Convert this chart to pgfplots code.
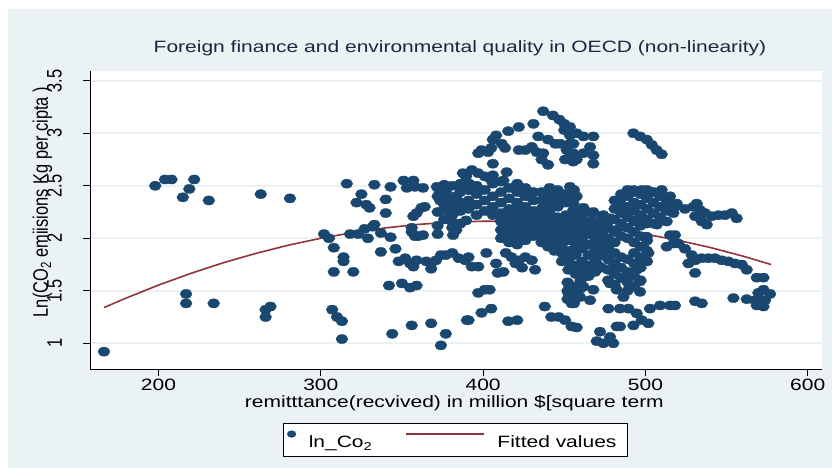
\documentclass[border=0pt]{standalone}
\usepackage{fontspec}
\setmainfont{Liberation Sans}[FakeStretch=1.28]
\newfontfamily\yfont{Liberation Sans}[FakeStretch=0.78125]
\usepackage{pgfplots}
\usepackage{pgfplotstable}
\pgfplotsset{compat=1.18}
\definecolor{stBg}{RGB}{234,242,243}
\definecolor{stNavy}{RGB}{26,71,111}
\definecolor{stMaroon}{RGB}{144,53,59}
\definecolor{titlecol}{RGB}{28,38,64}
\newcommand\lblfont{\fontsize{16.4bp}{19bp}\selectfont}
\newcommand\ylblfont{\yfont\fontsize{21bp}{24bp}\selectfont}
\pgfplotsset{
  scatlegend/.style={legend image code/.code={\draw[mark repeat=2, mark phase=2, ##1, mark size=3.4bp] plot coordinates {(0bp,0bp) (6bp,0bp) (12bp,0bp)};}},
  linelegend/.style={legend image code/.code={\draw[##1] (0bp,0bp) -- (78bp,0bp);}},
}

\pgfplotstableread{
x y
166.4 0.92
198 2.50
204 2.56
208 2.56
222 2.56
219 2.47
215 2.39
231 2.36
263 2.42
281 2.38
217 1.47
217 1.38
234 1.38
266 1.32
269 1.35
266 1.25
307 1.32
310 1.25
313 1.21
313 1.04
344 1.09
356 1.17
368 1.19
374 0.98
377 1.09
390 1.22
302 2.04
305 2.00
308 1.91
314 1.82
314 1.78
308 1.68
320 1.68
316 2.52
325 2.42
322 2.34
328 2.32
330 2.29
318 2.04
323 2.04
327 2.09
333 2.13
337 2.05
329 2.00
332 2.11
333 2.51
343 2.49
340 2.37
340 2.24
343 2.01
337 1.87
346 1.90
342 1.55
350 1.57
355 1.53
359 1.55
351 2.55
357 2.55
353 2.48
358 2.49
363 2.48
359 2.24
362 2.29
364 2.30
357 2.21
356 2.06
358 2.02
360 2.02
363 2.03
356 2.10
372 2.04
348 1.78
352 1.81
355 1.76
357 1.73
359 1.79
365 1.78
368 1.76
368 1.71
371 1.79
374 1.84
377 1.84
381 1.86
385 1.81
389 1.79
373 2.46
376 2.51
375 2.36
371.5 2.49
374.5 2.46
377.5 2.43
373.5 2.36
375.5 2.27
379.5 2.33
383.5 2.40
385.5 2.49
387.5 2.62
389.5 2.59
391.5 2.52
385.5 2.27
379.5 2.21
381.5 2.14
383.5 2.08
381.5 2.03
385.5 2.14
389.5 2.17
391.5 2.46
437 3.21
443 3.17
447 3.13
450 3.09
450 3.03
453.5 2.98
453.5 2.90
451.5 2.84
455.5 2.81
450.5 2.75
455.5 2.73
431 3.09
422 3.06
415.5 3.02
408 2.98
406 2.94
411.5 2.90
413.5 2.86
405 2.86
399 2.84
397 2.81
403 2.82
422 2.84
426 2.84
430 2.87
433 2.82
437 2.81
436 2.75
440 2.70
434 2.97
440 2.94
444.5 2.90
447.5 2.90
406 2.71
393 2.65
397 2.62
401 2.59
404 2.57
389 2.60
414.5 2.63
412.5 2.55
391 1.82
393 1.73
397 1.73
402 1.86
408 1.76
409 1.67
412.5 1.68
417.5 1.82
422 1.79
426 1.82
430 1.79
432 1.70
420 1.76
414 1.86
424 1.72
397 1.48
401 1.51
404 1.51
399 1.29
405 1.33
391 1.22
415.5 1.21
421 1.22
438 1.35
442 1.25
446.5 1.25
450.5 1.22
454.5 1.16
452.5 1.57
452.5 1.48
454.5 1.38
453.5 3.06
457.6 3.00
461.8 2.97
467.9 2.97
465.9 2.87
467.9 2.79
461.8 2.81
457.6 2.75
467.9 2.71
455.6 2.90
453.5 2.78
492.6 3.00
496.7 2.97
500.8 2.94
503.9 2.89
506.9 2.84
510 2.80
453.5 2.49
457.6 2.40
455.6 2.33
484.3 2.36
488.5 2.43
492.6 2.46
497.7 2.46
503.9 2.44
510 2.46
515.2 2.40
519.3 2.33
517.2 2.24
513.1 2.16
507 2.13
500.8 2.14
494.6 2.17
488.5 2.24
483.3 2.30
455.6 2.27
461.8 2.29
467.9 2.25
474.1 2.22
478.2 2.19
461.8 2.17
470 2.14
457.6 2.08
465.9 2.05
474.1 2.02
482.3 2.08
478.2 1.97
459.7 1.95
470 1.92
453.5 1.98
500.8 2.015
498.7 1.92
501.8 1.86
497.7 1.79
494.6 1.70
496.7 1.59
496.7 1.49
490.5 1.54
486.4 1.63
482.3 1.73
478.2 1.79
474.1 1.86
470 1.76
465.9 1.68
461.8 1.63
457.6 1.70
453.5 1.76
461.8 1.54
467.9 1.51
459.7 1.44
453.5 1.51
478.2 1.57
482.3 1.51
486.4 1.44
465.9 1.41
513.1 1.92
517.2 1.95
515.2 2.03
477.2 1.33
484.3 1.33
489.5 1.33
494.6 1.285
497.7 1.22
492.6 1.17
502.8 1.33
501.8 1.19
509 1.36
515.2 1.36
457.6 1.15
472 1.11
470 1.02
474.1 1.00
478.2 1.06
482.3 1.16
480.2 1.00
484.3 1.16
518.2 2.30
524.4 2.28
529.5 2.30
531.6 2.33
533.6 2.27
530.6 2.21
534.7 2.16
537.8 2.13
540.8 2.21
544.9 2.22
549.0 2.22
553.2 2.24
556.2 2.19
536.7 2.24
518.2 2.03
520.3 1.95
524.4 1.90
528.5 1.84
530.6 1.79
526.5 1.76
534.7 1.81
538.8 1.81
542.9 1.81
547 1.79
551.1 1.78
555.2 1.76
559.3 1.75
562.4 1.70
530.6 1.67
568.6 1.625
572.7 1.625
518.2 1.36
530.6 1.40
534.7 1.38
554.2 1.43
562.4 1.42
567.5 1.41
569.6 1.48
572.7 1.51
576.8 1.47
573.7 1.41
568.6 1.36
572.7 1.35
372 2.12
372 2.25
372 2.40
376 2.18
376 2.32
376 2.46
381 2.10
381 2.22
381 2.30
381 2.38
381 2.50
386 2.14
386 2.26
386 2.34
386 2.44
386 2.52
391 2.28
391 2.36
391 2.46
396 2.22
396 2.32
396 2.42
396 2.50
401 2.26
401 2.36
401 2.46
406 2.22
406 2.30
406 2.40
406 2.52
406 2.60
411 2.00
411 2.08
411 2.16
411 2.24
411 2.34
411 2.44
411 2.54
416 1.96
416 2.04
416 2.12
416 2.20
416 2.28
416 2.38
416 2.48
421 1.94
421 2.02
421 2.10
421 2.18
421 2.26
421 2.34
421 2.44
421 2.52
426 1.98
426 2.06
426 2.14
426 2.22
426 2.30
426 2.40
426 2.48
431 2.02
431 2.10
431 2.18
431 2.26
431 2.36
431 2.44
436 2.12
436 2.20
436 2.28
436 2.36
436 2.44
441 2.16
441 2.24
441 2.32
441 2.40
441 2.48
446 2.12
446 2.20
446 2.30
446 2.38
446 2.46
451 2.14
451 2.22
451 2.34
451 2.42
456 2.18
456 2.26
456 2.38
456 2.46
436 1.96
436 2.04
440 1.92
440 2.00
440 2.08
444 1.88
444 1.96
444 2.04
448.5 1.78
448.5 1.86
448.5 1.94
448.5 2.02
448.5 2.10
452.5 1.70
452.5 1.80
452.5 1.88
452.5 1.98
452.5 2.06
457 1.66
457 1.74
457 1.84
457 1.92
457 2.02
457 2.10
461 1.70
461 1.78
461 1.90
461 1.98
461 2.06
465 1.64
465 1.74
465 1.84
465 1.94
465 2.04
465 2.12
469 1.68
469 1.80
469 1.88
469 2.00
469 2.08
473 1.72
473 1.84
473 1.96
473 2.06
452 1.58
452 1.50
452 1.42
456 1.54
456 1.46
456 1.38
460 1.60
460 1.52
461 2.14
461 2.22
467 2.16
467 2.24
473 2.12
473 2.20
477 2.10
477 2.16
481 2.18
481 2.28
481 2.36
485 2.14
485 2.24
485 2.32
485 2.42
489 2.10
489 2.20
489 2.30
489 2.40
489 2.46
493 2.16
493 2.26
493 2.34
493 2.44
497 2.12
497 2.22
497 2.32
497 2.42
501 2.18
501 2.28
501 2.38
501 2.46
505 2.14
505 2.24
505 2.34
505 2.44
509 2.20
509 2.30
509 2.40
513 2.26
513 2.34
477 1.60
477 1.70
477 1.80
477 1.90
477 2.00
481 1.56
481 1.66
481 1.76
481 1.86
481 1.96
481 2.06
485 1.62
485 1.72
485 1.82
485 2.02
489 1.50
489 1.58
489 1.68
489 1.80
489 2.00
493 1.54
493 1.64
493 1.76
493 1.86
493 1.96
493 2.06
497 1.60
497 1.72
497 1.82
497 1.92
497 2.02
501 1.78
501 1.88
501 1.98
}\scatterdata

\pgfplotstableread{
x y
166.4 1.340
180 1.430
200 1.554
220 1.666
240 1.767
260 1.856
280 1.934
300 2.000
320 2.055
340 2.099
360 2.132
380 2.153
400 2.162
420 2.161
440 2.148
460 2.123
480 2.087
500 2.040
520 1.981
540 1.912
560 1.830
577.4 1.750
}\fitdata

\begin{document}
\begin{tikzpicture}
\useasboundingbox (0,0) rectangle (832bp,468bp);
\fill[white] (0,0) rectangle (832bp,468bp);
\fill[stBg] (7.5bp,0) rectangle (832bp,459bp);
\begin{axis}[
  at={(90bp,98.7bp)}, anchor=south west,
  scale only axis, width=731.7bp, height=298.6bp,
  xmin=157.8, xmax=608.6, ymin=0.752, ymax=3.596,
  axis x line*=bottom, axis y line*=left,
  axis line style={black, line width=1bp},
  axis background/.style={fill=white},
  xtick={200,300,400,500,600}, xticklabels={200,300,400,500,600},
  ytick={1,1.5,2,2.5,3,3.5}, yticklabels={1,1.5,2,2.5,3,3.5},
  tick align=outside, major tick length=7bp,
  tick style={black, line width=1bp},
  minor tick num=0,
  ymajorgrids, grid style={stBg, line width=1.6bp},
  xticklabel style={font=\lblfont, anchor=north, inner sep=0pt},
  xticklabel shift=3bp,
  yticklabel style={font=\ylblfont, rotate=90, anchor=south, inner sep=0pt},
  yticklabel shift=21bp,
  title={Foreign finance and environmental quality in OECD (non-linearity)},
  every axis title/.style={at={(axis description cs:0.5057,1)}, anchor=base, yshift=17.7bp, font=\lblfont, text=titlecol},
  xlabel={remitttance(recvived) in million \$[square term},
  every axis x label/.style={at={(axis description cs:0.498,-0.1296)}, anchor=base, font=\lblfont},
  ylabel={Ln(CO\textsubscript{2} emiisions Kg per cipta )},
  every axis y label/.style={at={(axis description cs:-0.0574,0.56)}, rotate=90, anchor=base, font=\ylblfont},
  legend columns=2,
  every axis legend/.style={at={(axis description cs:0.2634,-0.1788)}, anchor=north west},
  legend style={draw=black, line width=0.9bp, fill=white, inner xsep=4bp, inner ysep=7.5bp, font=\lblfont,
    nodes={inner sep=1bp, text height=12bp, text depth=0bp},
    /tikz/every odd column/.append style={column sep=11.8bp},
    /tikz/every even column/.append style={column sep=31.7bp}},
]
\addplot[only marks, mark=*, mark size=4.6bp,
  mark options={xscale=1.3, fill=stNavy, draw=stNavy, line width=0.3bp},
  scatlegend]
  table[x=x, y=y] {\scatterdata};
\addlegendentry{ln\_Co\textsubscript{2}}
\addplot[no marks, stMaroon, line width=1.6bp, linelegend]
  table[x=x, y=y] {\fitdata};
\addlegendentry{Fitted values\hspace*{6bp}}
\end{axis}
\end{tikzpicture}
\end{document}
